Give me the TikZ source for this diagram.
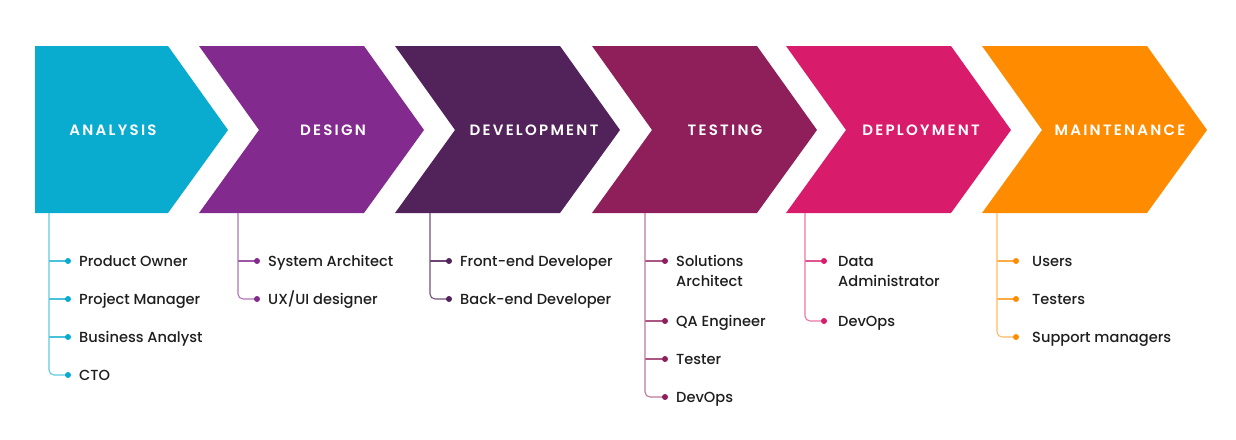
\documentclass[tikz,border=0pt]{standalone}
\usepackage{fontspec}
\setmainfont{Poppins Medium}
\newfontfamily\headfont[LetterSpace=15]{Poppins SemiBold}
\definecolor{cAna}{HTML}{09ACCE}
\definecolor{cDes}{HTML}{832A8F}
\definecolor{cDev}{HTML}{52225A}
\definecolor{cTes}{HTML}{8E1F5B}
\definecolor{cDep}{HTML}{D81B6A}
\definecolor{cMai}{HTML}{FF8C00}
\definecolor{txt}{HTML}{1E1E1E}
\begin{document}
\begin{tikzpicture}[x=1pt,y=-1pt,
  head/.style={text=white,font=\headfont\fontsize{15}{16}\selectfont},
  item/.style={anchor=base west,text=txt,align=left,inner sep=0pt,font=\fontsize{14.6}{20}\selectfont},
  item2/.style={item,anchor=west},
  trunk/.style={line width=1.1pt,rounded corners=5pt},
  branch/.style={line width=1.1pt}]
\useasboundingbox (0,0) rectangle (1236,439);
% chevrons
\fill[cAna] (35,46) -- (168,46) -- (228,130) -- (168,213) -- (35,213) -- cycle;
\foreach \L/\c in {199/cDes,395/cDev,592/cTes,786/cDep,982/cMai}{
  \fill[\c] (\L,46) -- (\L+165,46) -- (\L+225,130) -- (\L+165,213) -- (\L,213) -- (\L+60,130) -- cycle;
}
\node[head] (hAna) at (113,130) {ANALYSIS};
\node[head] (hDes) at (333,130) {DESIGN};
\node[head] (hDev) at (534,130) {DEVELOPMENT};
\node[head] (hTes) at (725,130) {TESTING};
\node[head] (hDep) at (921,130) {DEPLOYMENT};
\node[head] (hMai) at (1120,130) {MAINTENANCE};

% ANALYSIS list
\coordinate (tAna) at (49,213);
\foreach \i/\y in {1/261,2/299,3/337,4/375} \coordinate (ad\i) at (68,\y);
\node[item] (a1) at (79,266) {Product Owner};
\node[item] (a2) at (79,304) {Project Manager};
\node[item] (a3) at (79,342) {Business Analyst};
\node[item] (a4) at (79,380) {CTO};
\foreach \i in {1,2,3}{
  \draw[branch,cAna!75] (tAna |- ad\i) -- (ad\i);
  \fill[cAna] (ad\i) circle (3pt);
}
\draw[trunk,cAna!65] (tAna) |- (ad4);
\fill[cAna] (ad4) circle (3pt);

% DESIGN list
\coordinate (tDes) at (238,213);
\coordinate (dd1) at (257,261);
\coordinate (dd2) at (257,299);
\node[item] (d1) at (268,266) {System Architect};
\node[item] (d2) at (268,304) {UX/UI designer};
\draw[branch,cDes!80] (tDes |- dd1) -- (dd1);
\fill[cDes] (dd1) circle (3pt);
\draw[trunk,cDes!65] (tDes) |- (dd2);
\fill[cDes] (dd2) circle (3pt);

% DEVELOPMENT list
\coordinate (tDev) at (430,213);
\coordinate (vd1) at (449,261);
\coordinate (vd2) at (449,299);
\node[item] (v1) at (460,266) {Front-end Developer};
\node[item] (v2) at (460,304) {Back-end Developer};
\draw[branch,cDev!85] (tDev |- vd1) -- (vd1);
\fill[cDev] (vd1) circle (3pt);
\draw[trunk,cDev!80] (tDev) |- (vd2);
\fill[cDev] (vd2) circle (3pt);

% TESTING list
\coordinate (tTes) at (645,213);
\foreach \i/\y in {1/261,2/321,3/359,4/397} \coordinate (td\i) at (665,\y);
\node[item2] (t1) at (676,271) {Solutions\\Architect};
\node[item] (t2) at (676,326) {QA Engineer};
\node[item] (t3) at (676,364) {Tester};
\node[item] (t4) at (676,402) {DevOps};
\foreach \i in {1,2,3}{
  \draw[branch,cTes!75] (tTes |- td\i) -- (td\i);
  \fill[cTes] (td\i) circle (3pt);
}
\draw[trunk,cTes!60] (tTes) |- (td4);
\fill[cTes] (td4) circle (3pt);

% DEPLOYMENT list
\coordinate (tDep) at (805,213);
\coordinate (pd1) at (824,261);
\coordinate (pd2) at (824,321);
\node[item2] (p1) at (838,271) {Data\\Administrator};
\node[item] (p2) at (838,326) {DevOps};
\draw[branch,cDep!75] (tDep |- pd1) -- (pd1);
\fill[cDep] (pd1) circle (3pt);
\draw[trunk,cDep!60] (tDep) |- (pd2);
\fill[cDep] (pd2) circle (3pt);

% MAINTENANCE list
\coordinate (tMai) at (997,213);
\foreach \i/\y in {1/261,2/299,3/337} \coordinate (md\i) at (1016,\y);
\node[item] (m1) at (1032,266) {Users};
\node[item] (m2) at (1032,304) {Testers};
\node[item] (m3) at (1032,342) {Support managers};
\foreach \i in {1,2}{
  \draw[branch,cMai!75] (tMai |- md\i) -- (md\i);
  \fill[cMai] (md\i) circle (3pt);
}
\draw[trunk,cMai!60] (tMai) |- (md3);
\fill[cMai] (md3) circle (3pt);
\end{tikzpicture}
\end{document}
